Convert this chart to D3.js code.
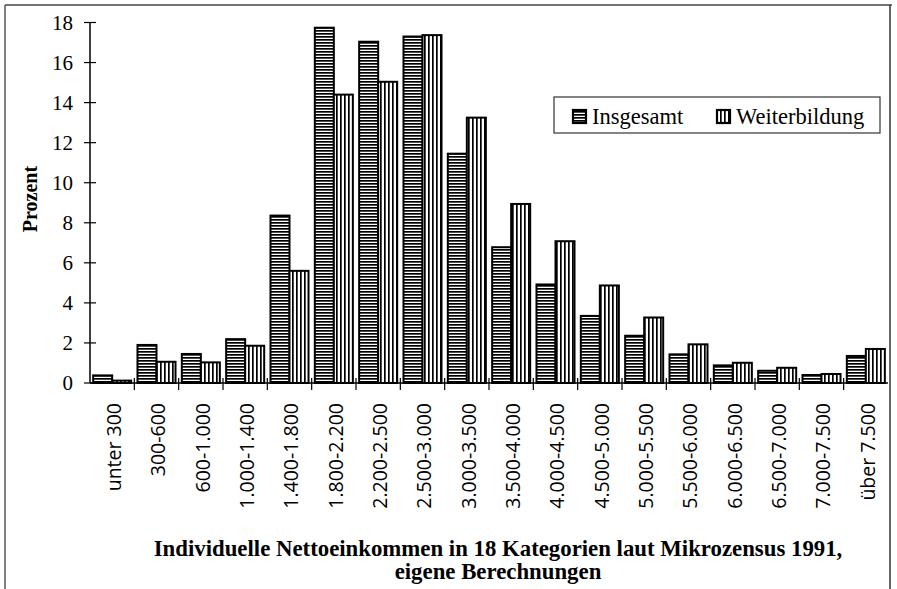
<!DOCTYPE html>
<html><head><meta charset="utf-8">
<script src="https://cdn.jsdelivr.net/npm/d3@7"></script>
<style>body{margin:0;background:#fff}svg{display:block}</style>
</head><body>
<script>
const categories = ["unter 300","300-600","600-1.000","1.000-1.400","1.400-1.800","1.800-2.200","2.200-2.500","2.500-3.000","3.000-3.500","3.500-4.000","4.000-4.500","4.500-5.000","5.000-5.500","5.500-6.000","6.000-6.500","6.500-7.000","7.000-7.500","über 7.500"];
const seriesNames = ["Insgesamt","Weiterbildung"];
const insgesamt = [0.38,1.9,1.45,2.19,8.36,17.74,17.04,17.3,11.45,6.78,4.92,3.35,2.36,1.43,0.88,0.61,0.4,1.35];
const weiterbildung = [0.12,1.06,1.03,1.86,5.6,14.4,15.04,17.37,13.25,8.94,7.08,4.87,3.27,1.93,1.01,0.76,0.45,1.7];
const yTicks = [0,2,4,6,8,10,12,14,16,18];

const W = 897, H = 589;
const svg = d3.select("body").append("svg").attr("width", W).attr("height", H);
const defs = svg.append("defs");
const ph = defs.append("pattern").attr("id","pH").attr("patternUnits","userSpaceOnUse").attr("width",4).attr("height",3);
ph.append("rect").attr("width",4).attr("height",3).attr("fill","#fff");
ph.append("rect").attr("y",0).attr("width",4).attr("height",1.7).attr("fill","#000");
const pv = defs.append("pattern").attr("id","pV").attr("patternUnits","userSpaceOnUse").attr("width",4).attr("height",4);
pv.append("rect").attr("width",4).attr("height",4).attr("fill","#fff");
pv.append("rect").attr("x",0).attr("width",1.7).attr("height",4).attr("fill","#000");
const fills = ["url(#pH)","url(#pV)"];

// frame
svg.append("line").attr("x1",5).attr("x2",892).attr("y1",5).attr("y2",5).attr("stroke","#444").attr("stroke-width",1.5);
svg.append("line").attr("x1",5).attr("x2",5).attr("y1",5).attr("y2",589).attr("stroke","#555").attr("stroke-width",1.5);
svg.append("line").attr("x1",890).attr("x2",890).attr("y1",5).attr("y2",589).attr("stroke","#333").attr("stroke-width",1.5);

const x0 = d3.scaleBand().domain(categories).range([90, 888]).padding(0);
const x1 = d3.scaleBand().domain(seriesNames).range([0, x0.bandwidth()]).paddingInner(0).paddingOuter(0.166);
const y = d3.scaleLinear().domain([0,18]).range([383, 22.5]);

const data = categories.map((c,i)=>({c, vals:[insgesamt[i], weiterbildung[i]]}));
const g = svg.append("g");
data.forEach(d=>{
  d.vals.forEach((v,k)=>{
    g.append("rect")
      .attr("x", x0(d.c)+x1(seriesNames[k]))
      .attr("y", y(v))
      .attr("width", x1.bandwidth())
      .attr("height", y(0)-y(v))
      .attr("fill", fills[k])
      .attr("stroke","#000").attr("stroke-width",2);
  });
});

// y axis
const ya = svg.append("g").attr("transform","translate(90,0)");
ya.append("line").attr("x1",0).attr("x2",0).attr("y1",y(18)).attr("y2",y(0)).attr("stroke","#000").attr("stroke-width",1.5);
yTicks.forEach(t=>{
  ya.append("line").attr("x1",-6).attr("x2",6).attr("y1",y(t)).attr("y2",y(t)).attr("stroke","#000").attr("stroke-width",1.2);
  ya.append("text").attr("x",-17).attr("y",y(t)).attr("dy","0.35em").attr("text-anchor","end")
    .attr("font-family","Liberation Serif").attr("font-size",21).text(t);
});

// x axis
const xa = svg.append("g");
xa.append("line").attr("x1",90).attr("x2",888).attr("y1",y(0)).attr("y2",y(0)).attr("stroke","#000").attr("stroke-width",1.5);
categories.forEach((c,i)=>{
  if(i>0) xa.append("line").attr("x1",x0(c)).attr("x2",x0(c)).attr("y1",y(0)-5).attr("y2",y(0)+7).attr("stroke","#000").attr("stroke-width",1.2);
  xa.append("text").attr("transform",`translate(${x0(c)+x0.bandwidth()/2+2},${403}) rotate(-90)`)
    .attr("dy","0.35em").attr("text-anchor","end")
    .attr("font-family","Open Sans").attr("font-size",19.5).text(c);
});

// y label
svg.append("text").attr("transform","translate(30,199) rotate(-90)").attr("dy","0.35em").attr("text-anchor","middle")
  .attr("font-family","Liberation Serif").attr("font-weight","bold").attr("font-size",20).text("Prozent");

// x title
svg.append("text").attr("x",498).attr("y",556).attr("text-anchor","middle")
  .attr("font-family","Liberation Serif").attr("font-weight","bold").attr("font-size",22.8)
  .text("Individuelle Nettoeinkommen in 18 Kategorien laut Mikrozensus 1991,");
svg.append("text").attr("x",498).attr("y",579).attr("text-anchor","middle")
  .attr("font-family","Liberation Serif").attr("font-weight","bold").attr("font-size",22.8)
  .text("eigene Berechnungen");

// legend
const lg = svg.append("g");
lg.append("rect").attr("x",554).attr("y",97).attr("width",326).attr("height",36).attr("fill","#fff").attr("stroke","#333").attr("stroke-width",1.2);
const legX = [573, 717];
seriesNames.forEach((s,k)=>{
  lg.append("rect").attr("x",legX[k]).attr("y",110).attr("width",13).attr("height",13).attr("fill",fills[k]).attr("stroke","#000").attr("stroke-width",2.2);
  lg.append("text").attr("x",legX[k]+19).attr("y",116.5).attr("dy","0.35em").attr("font-family","Liberation Serif").attr("font-size",22.5).text(s);
});
</script>
</body></html>
